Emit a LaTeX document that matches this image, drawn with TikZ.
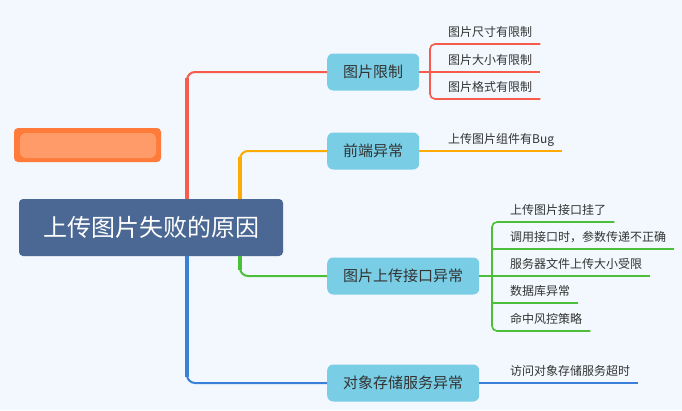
\documentclass[tikz,border=0pt]{standalone}
\usepackage{fontspec}
\newfontfamily\cjk{Noto Sans CJK SC}
\usetikzlibrary{positioning}
\definecolor{bgcol}{HTML}{F2F8FD}
\definecolor{myred}{HTML}{F65B4C}
\definecolor{myorange}{HTML}{FFAA00}
\definecolor{mygreen}{HTML}{4DBE3A}
\definecolor{myblue}{HTML}{3A80D8}
\definecolor{topiccol}{HTML}{79CDE4}
\definecolor{rootcol}{HTML}{4A6893}
\definecolor{txtcol}{HTML}{333333}
\definecolor{tagcol}{HTML}{FF7B3A}
\tikzstyle{rootbox}=[fill=rootcol,rounded corners=4pt,text=white,font=\cjk\fontsize{24}{28}\selectfont,minimum height=57pt,inner xsep=24pt]
\tikzstyle{topic}=[fill=topiccol,rounded corners=6pt,text=txtcol,font=\cjk\fontsize{15}{18}\selectfont,minimum height=37pt,inner xsep=16pt,anchor=west]
\tikzstyle{leaf}=[text=txtcol,font=\cjk\fontsize{12}{14}\selectfont,inner xsep=8pt,inner ysep=0pt,text height=9pt,text depth=7pt,anchor=south west]
\tikzstyle{trunk}=[line width=4pt,shorten >=6pt]
\tikzstyle{branch}=[line width=2pt,rounded corners=8pt]
\tikzstyle{twig}=[line width=1.6pt,rounded corners=5pt]

\begin{document}
\begin{tikzpicture}[x=1pt,y=-1pt]
  \fill[bgcol] (0,0) rectangle (682,410);
  \useasboundingbox (0,0) rectangle (682,410);
  % blurred tag
  \node[fill=tagcol,rounded corners=4pt,minimum width=147pt,minimum height=34pt] (tag) at (87.5,145) {};
  \fill[tagcol!60!white,rounded corners=6pt,opacity=0.6] (20,133) rectangle (156,158);
  % root and topics
  \node[rootbox] (root) at (151,227.5) {上传图片失败的原因};
  \node[topic] (lim) at (327,72) {图片限制};
  \node[topic] (front) at (327,151) {前端异常};
  \node[topic] (api) at (327,276) {图片上传接口异常};
  \node[topic] (oss) at (327,383) {对象存储服务异常};
  \coordinate (ta) at (187,0);
  \coordinate (tb) at (240,0);
  \coordinate (ka) at (430,0);
  \coordinate (kb) at (492,0);
  % leaves
  \node[leaf] (l1) at (440,44) {图片尺寸有限制};
  \node[leaf] (l2) at (440,72) {图片大小有限制};
  \node[leaf] (l3) at (440,99) {图片格式有限制};
  \node[leaf] (f1) at (440,151) {上传图片组件有Bug};
  \node[leaf] (a1) at (502,222) {上传图片接口挂了};
  \node[leaf] (a2) at (502,249) {调用接口时，参数传递不正确};
  \node[leaf] (a3) at (502,276) {服务器文件上传大小受限};
  \node[leaf] (a4) at (502,303) {数据库异常};
  \node[leaf] (a5) at (502,331) {命中风控策略};
  \node[leaf] (o1) at (502,383) {访问对象存储服务超时};
  % trunks
  \draw[myred,trunk] (ta |- root.north) -- (ta |- lim.west);
  \draw[myred,branch] (ta |- root.north) |- (lim.west);
  \draw[myorange,trunk] (tb |- root.north) -- (tb |- front.west);
  \draw[myorange,branch] (tb |- root.north) |- (front.west);
  \draw[mygreen,trunk] (tb |- root.south) -- (tb |- api.west);
  \draw[mygreen,branch] (tb |- root.south) |- (api.west);
  \draw[myblue,trunk] (ta |- root.south) -- (ta |- oss.west);
  \draw[myblue,branch] (ta |- root.south) |- (oss.west);
  % twigs
  \draw[myred,twig] (l1.south east) -- (l1.south -| ka) -- (l3.south -| ka) -- (l3.south east);
  \draw[myred,twig] (lim.east) -- (l2.south east);
  \draw[myorange,twig] (front.east) -- (f1.south east);
  \draw[mygreen,twig] (a1.south east) -- (a1.south -| kb) -- (a5.south -| kb) -- (a5.south east);
  \draw[mygreen,twig] (a2.south east) -- (a2.south -| kb);
  \draw[mygreen,twig] (a4.south east) -- (a4.south -| kb);
  \draw[mygreen,twig] (api.east) -- (a3.south east);
  \draw[myblue,twig] (oss.east) -- (o1.south east);
\end{tikzpicture}
\end{document}
